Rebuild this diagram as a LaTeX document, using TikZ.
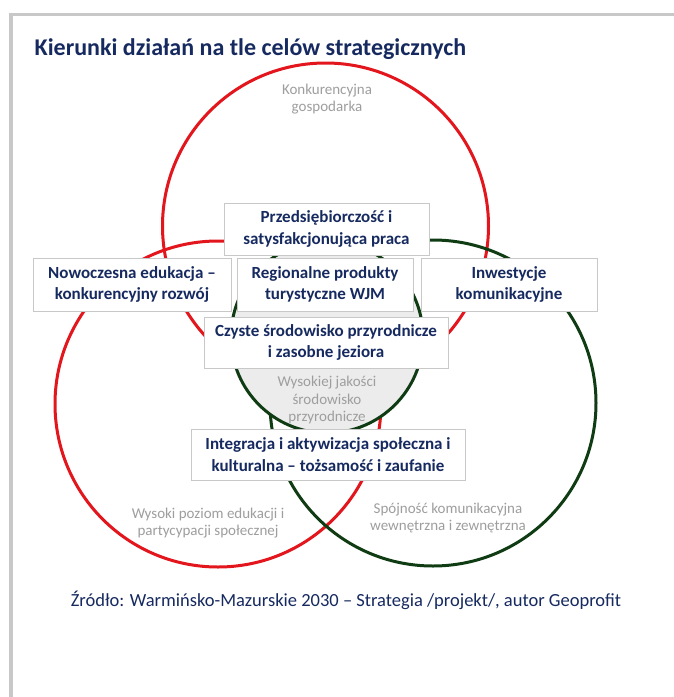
\documentclass[tikz,border=0pt]{standalone}
\usepackage{fontspec}
\setmainfont{Carlito}
\definecolor{vred}{RGB}{226,22,28}
\definecolor{vgreen}{RGB}{16,60,20}
\definecolor{vfill}{RGB}{236,236,236}
\definecolor{vlabel}{RGB}{158,158,158}
\definecolor{vnavy}{RGB}{22,42,96}
\definecolor{vboxline}{RGB}{200,200,200}
\definecolor{vframe}{RGB}{200,200,200}
\begin{document}
\begin{tikzpicture}[x=1pt,y=-1pt,
  redring/.style={draw=vred,line width=3pt},
  greenring/.style={draw=vgreen,line width=3pt},
  boxnode/.style={draw=vboxline,fill=white,line width=0.9pt,align=center,inner sep=0pt,
    text=vnavy,font=\fontsize{17}{21.5}\selectfont\bfseries},
  graylabel/.style={align=center,inner sep=0pt,text=vlabel,font=\fontsize{15}{17.5}\selectfont}]
\useasboundingbox (0,0) rectangle (674,697);
\fill[white] (0,0) rectangle (674,697);
% frame
\fill[vframe] (9,12.5) rectangle (674,16);
\fill[vframe] (9,12.5) rectangle (13,697);
% title
\node[anchor=base west,inner sep=0pt,text=vnavy,font=\fontsize{24}{28}\selectfont\bfseries] (title) at (34.5,55) {Kierunki działań na tle celów strategicznych};
% circles
\draw[redring] (325.5,226) circle[radius=163pt];
\draw[redring] (218,404) circle[radius=163pt];
\draw[greenring] (433,403) circle[radius=163pt];
\draw[greenring,fill=vfill] (327,337) circle[radius=96pt];
% circle labels
\node[graylabel] (lkon) at (327,99) {Konkurencyjna\\gospodarka};
\node[graylabel] (lwys) at (327,400) {Wysokiej jakości\\środowisko\\przyrodnicze};
\node[graylabel] (ledu) at (208,523) {Wysoki poziom edukacji i\\partycypacji społecznej};
\node[graylabel] (lspo) at (448,518) {Spójność komunikacyjna\\wewnętrzna i zewnętrzna};
% boxes
\node[boxnode,minimum width=205pt,minimum height=52pt] (prz) at (326.5,229) {Przedsiębiorczość i\\satysfakcjonująca praca};
\node[boxnode,minimum width=198pt,minimum height=53pt] (now) at (132,284.5) {Nowoczesna edukacja –\\konkurencyjny rozwój};
\node[boxnode,minimum width=176pt,minimum height=53pt] (reg) at (325,284.5) {Regionalne produkty\\turystyczne WJM};
\node[boxnode,minimum width=176pt,minimum height=53pt] (inw) at (509,284.5) {Inwestycje\\komunikacyjne};
\node[boxnode,minimum width=244pt,minimum height=51pt] (czy) at (326,342.5) {Czyste środowisko przyrodnicze\\i zasobne jeziora};
\node[boxnode,minimum width=274pt,minimum height=51pt] (int) at (328,454.5) {Integracja i aktywizacja społeczna i\\kulturalna – tożsamość i zaufanie};
% source
\node[inner sep=0pt,text=vnavy,font=\fontsize{18.5}{22}\selectfont] (src) at (346,600) {Źródło: Warmińsko-Mazurskie 2030 – Strategia /projekt/, autor Geoprofit};
\end{tikzpicture}
\end{document}
